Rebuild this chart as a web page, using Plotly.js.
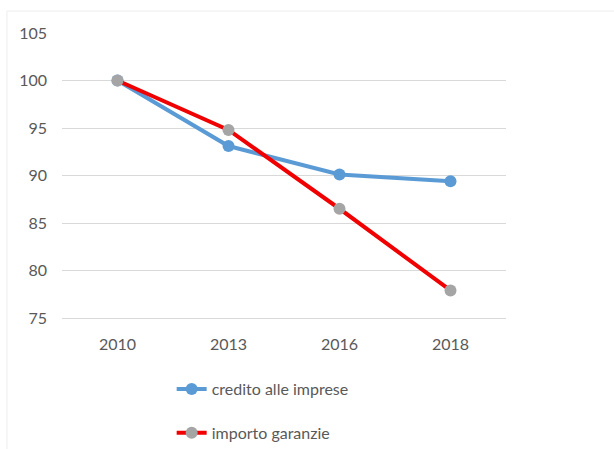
<!DOCTYPE html>
<html>
<head>
<meta charset="utf-8">
<script src="https://cdn.plot.ly/plotly-3.0.1.min.js"></script>
<style>
  html, body { margin: 0; padding: 0; background: #ffffff; }
  #chart { width: 614px; height: 449px; }
</style>
</head>
<body>
<div id="chart"></div>
<script>
// Index numbers, 2010 = 100
const years = ['2010', '2013', '2016', '2018'];
const creditoImprese = [100, 93.1, 90.1, 89.4];
const importoGaranzie = [100, 94.8, 86.5, 77.9];
const yTicks = [75, 80, 85, 90, 95, 100, 105];

const fontFamily = 'Lato, "Open Sans", sans-serif';
const textColor = '#595959';

const traces = [
  {
    x: years,
    y: creditoImprese,
    name: 'credito alle imprese',
    type: 'scatter',
    mode: 'lines+markers',
    legendgroup: 'a',
    line: { color: '#5b9bd5', width: 4 },
    marker: { color: '#5b9bd5', size: 12 }
  },
  {
    x: years,
    y: importoGaranzie,
    name: 'importo garanzie',
    type: 'scatter',
    mode: 'lines+markers',
    legendgroup: 'b',
    line: { color: '#f00000', width: 4 },
    marker: { color: '#a5a5a5', size: 12 }
  }
];

const layout = {
  width: 614,
  height: 449,
  margin: { l: 62, r: 108, t: 33, b: 131, autoexpand: false },
  paper_bgcolor: '#ffffff',
  plot_bgcolor: '#ffffff',
  font: { family: fontFamily, size: 16, color: textColor },
  showlegend: true,
  legend: {
    orientation: 'v',
    x: 0.247,
    xanchor: 'left',
    y: -0.19,
    yanchor: 'top',
    traceorder: 'grouped',
    tracegroupgap: 20,
    font: { family: fontFamily, size: 16, color: textColor },
    bgcolor: 'rgba(0,0,0,0)'
  },
  xaxis: {
    type: 'category',
    range: [-0.5, 3.5],
    showgrid: false,
    showline: true,
    linecolor: '#d9d9d9',
    linewidth: 1,
    ticks: '',
    ticklabelstandoff: 12,
    tickfont: { family: fontFamily, size: 16, color: textColor },
    fixedrange: true
  },
  yaxis: {
    range: [75, 105],
    tickvals: yTicks,
    showgrid: true,
    gridcolor: '#d9d9d9',
    gridwidth: 1,
    zeroline: false,
    showline: false,
    ticks: '',
    ticklabelstandoff: 14,
    tickfont: { family: fontFamily, size: 16, color: textColor },
    fixedrange: true
  },
  shapes: [
    {
      type: 'rect',
      xref: 'paper',
      yref: 'paper',
      x0: -0.124, x1: 2,
      y0: -2, y1: 1.077,
      line: { color: '#ededed', width: 1 },
      fillcolor: 'rgba(0,0,0,0)',
      layer: 'below'
    }
  ]
};

Plotly.newPlot('chart', traces, layout, { displayModeBar: false, staticPlot: true });
</script>
</body>
</html>
